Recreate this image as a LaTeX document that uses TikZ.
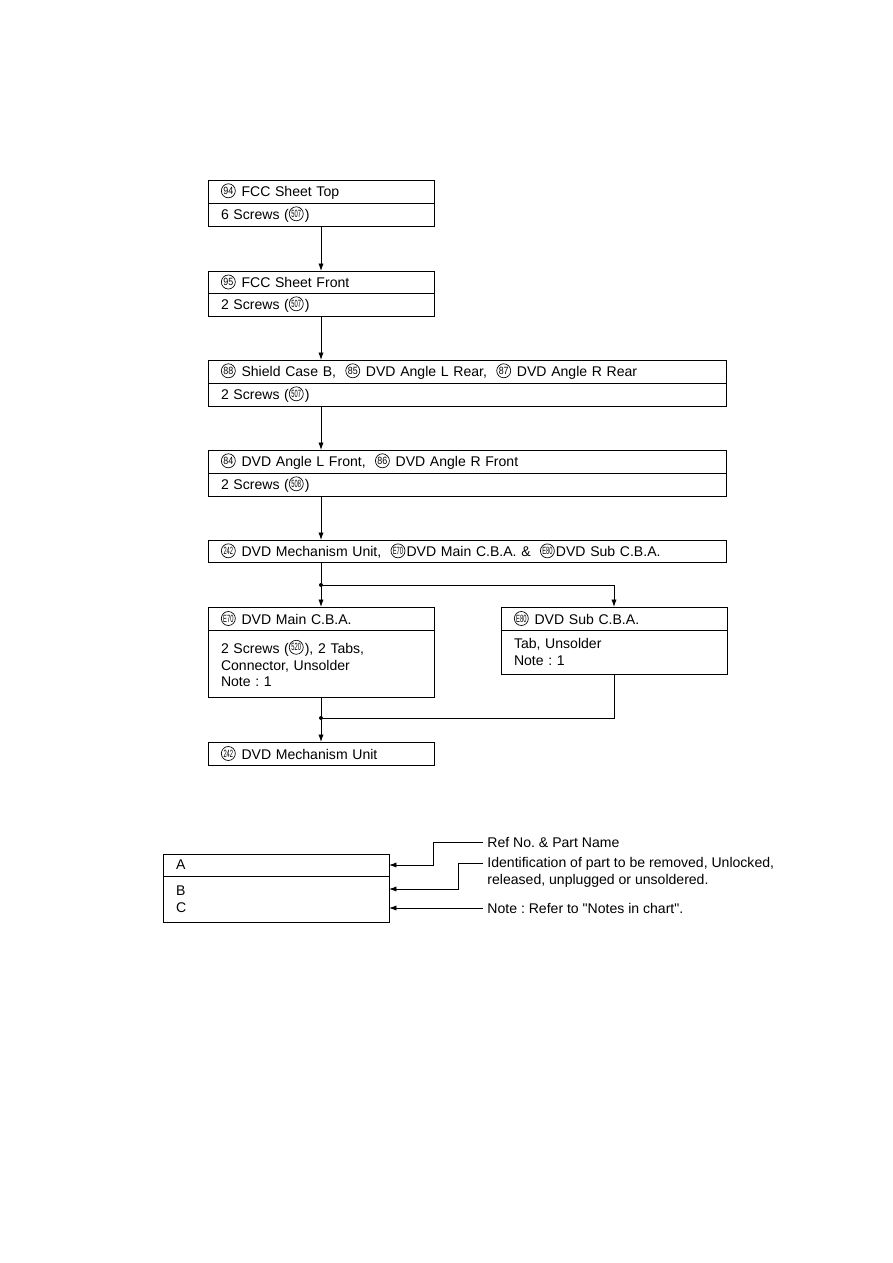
\documentclass[tikz,border=0pt]{standalone}
\usepackage{fontspec}
\setmainfont{Liberation Sans}[Ligatures=TeXOff]
\usepackage{graphicx}
\usetikzlibrary{arrows.meta,positioning}

% one pixel of the page
\newlength{\px}
\setlength{\px}{0.02352cm}

% circled reference number
\newcommand{\partno}[2][0.85]{\tikz[baseline={([yshift=-1.5pt]pn.base)}]
  \node[draw, circle, inner sep=0pt, outer sep=0pt, minimum size=14\px, text width=, align=center,
        anchor=center, line width=0.45pt, font=\fontsize{7}{7}\selectfont] (pn) {\scalebox{#1}[1]{#2}};\kern0.8pt\relax}

\begin{document}
\frenchspacing
\begin{tikzpicture}[
    x=0.02352cm, y=-0.02352cm,
    line width=0.6pt,
    >={Latex[length=5pt,width=3.5pt]},
    font=\fontsize{9.4}{11.3}\selectfont,
    narrowbox/.style={draw, rectangle, inner xsep=13\px, inner ysep=0pt, outer sep=0pt,
                      minimum width=226\px, text width=200\px, align=left},
    widebox/.style={draw, rectangle, inner xsep=13\px, inner ysep=0pt, outer sep=0pt,
                    minimum width=518\px, text width=492\px, align=left},
    note/.style={anchor=west, inner xsep=4\px, inner ysep=0pt, align=left},
    joint/.style={circle, fill, inner sep=0pt, minimum size=4\px}
    ]
    
    \useasboundingbox (0,0) rectangle (893,1263);
    
    % Removal steps
    \node[narrowbox, anchor=north west, minimum height=23\px] (sheetTopA) at (208,180) {\partno{94} FCC Sheet Top};
    \node[narrowbox, below=0pt of sheetTopA, minimum height=23\px] (sheetTopB) {6 Screws (\partno[0.55]{507})};
    
    \node[narrowbox, anchor=north west, minimum height=22\px] (sheetFrontA) at (208,271) {\partno{95} FCC Sheet Front};
    \node[narrowbox, below=0pt of sheetFrontA, minimum height=23\px] (sheetFrontB) {2 Screws (\partno[0.55]{507})};
    
    \node[widebox, anchor=north west, minimum height=23\px] (shieldA) at (208,360)
    {\partno{88} Shield Case B, \ \partno{85} DVD Angle L Rear, \ \partno{87} DVD Angle R Rear};
    \node[widebox, below=0pt of shieldA, minimum height=23\px] (shieldB) {2 Screws (\partno[0.55]{507})};
    
    \node[widebox, anchor=north west, minimum height=23\px] (angleA) at (208,450)
    {\partno{84} DVD Angle L Front, \ \partno{86} DVD Angle R Front};
    \node[widebox, below=0pt of angleA, minimum height=23\px] (angleB) {2 Screws (\partno[0.55]{508})};
    
    \node[widebox, anchor=north west, minimum height=22\px] (mechAllA) at (208,540)
    {\partno[0.55]{242} DVD Mechanism Unit, \ \partno[0.55]{E70}DVD Main C.B.A. \& \ \partno[0.55]{E80}DVD Sub C.B.A.};
    
    \node[narrowbox, anchor=north west, minimum height=23\px] (mainA) at (208,607) {\partno[0.55]{E70} DVD Main C.B.A.};
    \node[narrowbox, below=0pt of mainA, minimum height=67\px] (mainB)
    {2 Screws (\partno[0.55]{520}), 2 Tabs,\\Connector, Unsolder\\Note : 1};
    
    \node[narrowbox, anchor=north west, minimum height=23\px] (subA) at (501,607) {\partno[0.55]{E80} DVD Sub C.B.A.};
    \node[narrowbox, below=0pt of subA, minimum height=44\px] (subB) {Tab, Unsolder\\Note : 1};
    
    \node[narrowbox, anchor=north west, minimum height=23\px] (mechUnit) at (208,742) {\partno[0.55]{242} DVD Mechanism Unit};
    
    % Flow
    \draw[->] (sheetTopB) -- (sheetFrontA);
    \draw[->] (sheetFrontB) -- (sheetFrontB |- shieldA.north);
    \draw[->] (shieldB.south -| sheetFrontB) -- (angleA.north -| sheetFrontB);
    \draw[->] (angleB.south -| sheetFrontB) -- (mechAllA.north -| sheetFrontB);
    
    \node[joint] (split) at (321,585) {};
    \draw (mechAllA.south -| split) -- (split);
    \draw[->] (split) -- (mainA);
    \draw[->] (split) -| (subA);
    
    \node[joint] (merge) at (321,718) {};
    \draw (mainB) -- (merge);
    \draw (subB) |- (merge);
    \draw[->] (merge) -- (mechUnit);
    
    % Legend
    \node[narrowbox, anchor=north west, minimum height=22\px] (legendA) at (163,854) {A};
    \node[narrowbox, below=0pt of legendA, minimum height=46\px] (legendB) {B\\C};
    
    \node[note] (refText) at (483,842) {Ref No. \& Part Name};
    \node[note] (idText) at (483,872) {Identification of part to be removed, Unlocked,\\released, unplugged or unsoldered.};
    \node[note] (noteText) at (483,908) {Note : Refer to "Notes in chart".};
    
    \coordinate (refBend) at (433,842);
    \coordinate (idBend) at (458,863);
    \draw[->] (refText) -- (refBend) |- (legendA);
    \draw[->] (idText.west |- idBend) -- (idBend) |- (legendB.east |- 0,889);
    \draw[->] (noteText) -- (noteText -| legendB.east);
\end{tikzpicture}
\end{document}
